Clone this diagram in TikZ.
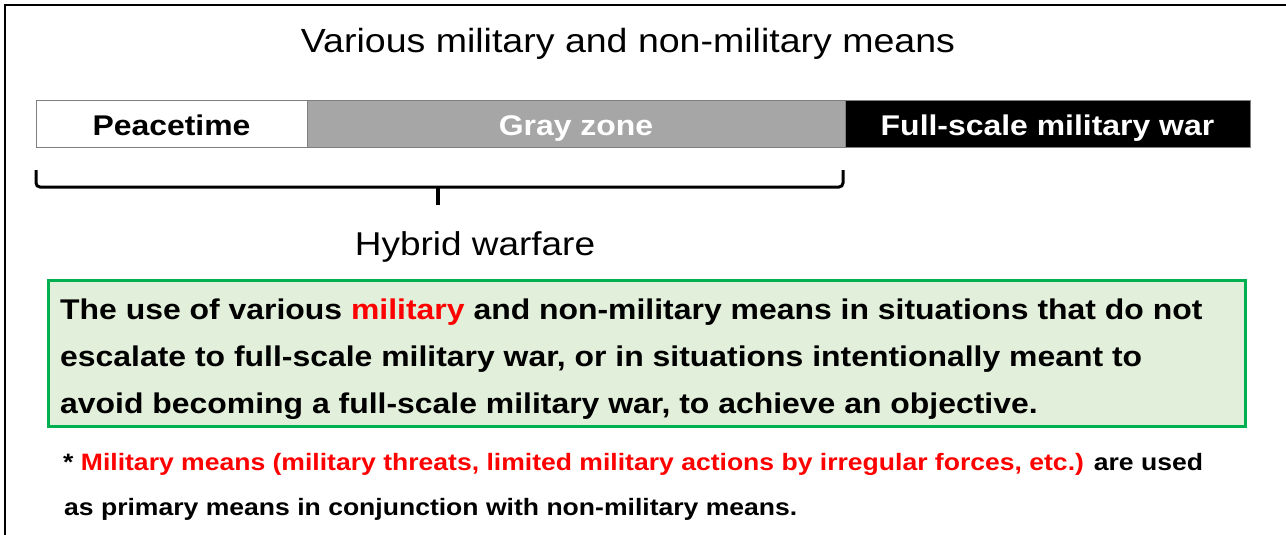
\documentclass[tikz,border=0pt]{standalone}
\usepackage{fontspec}
\setmainfont[FakeStretch=1.12]{Liberation Sans}
\definecolor{barborder}{HTML}{7F7F7F}
\definecolor{grayzone}{HTML}{A6A6A6}
\definecolor{boxgreen}{HTML}{00B050}
\definecolor{boxfill}{HTML}{E2EFDA}
\definecolor{alertred}{HTML}{FF0000}
\tikzset{
  barcell/.style={draw=barborder, line width=0.8pt, inner sep=0pt, anchor=north west, minimum height=47pt},
  barlabel/.style={anchor=base, inner sep=0pt, font=\fontsize{28.5}{34}\selectfont\bfseries},
  heading/.style={anchor=base, inner sep=0pt, font=\fontsize{33.5}{40}\selectfont},
  defline/.style={anchor=base west, inner sep=0pt, font=\fontsize{28.5}{34}\selectfont\bfseries},
  noteline/.style={anchor=base west, inner sep=0pt, font=\fontsize{23.7}{28}\selectfont\bfseries},
  bracketline/.style={line width=3pt, rounded corners=4pt}
}
\begin{document}
\begin{tikzpicture}[x=1pt, y=-1pt]
\useasboundingbox (0,0) rectangle (1286,535);
\begin{scope}
\clip (0,0) rectangle (1286,535);
% frame (open on the right and bottom)
\draw[line width=2pt] (5,545) -- (5,5) -- (1295,5);
\end{scope}

% title
\node[heading] (title) at (628,53) {Various military and non-military means};

% phase bar
\node[barcell, fill=white, minimum width=271pt] (peace) at (36,100) {};
\node[barcell, fill=grayzone, minimum width=538pt] (gray) at (307,100) {};
\node[barcell, fill=black, minimum width=405pt] (war) at (845,100) {};
\node[barlabel] (peacelbl) at (171.5,135.5) {Peacetime};
\node[barlabel, text=white] (graylbl) at (576,135.5) {Gray zone};
\node[barlabel, text=white] (warlbl) at (1047.5,135.5) {Full-scale military war};

% brace under peacetime and gray zone
\draw[bracketline] (36,170) -- (36,187) -- (843,187) -- (843,170);
\draw[line width=3.5pt] (438,186) -- (438,205);
\node[heading, font=\fontsize{33}{40}\selectfont] (hybrid) at (475,255) {Hybrid warfare};

% definition box
\node[draw=boxgreen, fill=boxfill, line width=3pt, anchor=north west,
      minimum width=1197pt, minimum height=146pt, inner sep=0pt] (defbox) at (47,279) {};
\node[defline] (def1) at (60,319) {The use of various \textcolor{alertred}{military} and non-military means in situations that do not};
\node[defline] (def2) at (60,366) {escalate to full-scale military war, or in situations intentionally meant to};
\node[defline] (def3) at (60,413) {avoid becoming a full-scale military war, to achieve an objective.};

% footnote
\node[noteline] (note1) at (63,470) {* \textcolor{alertred}{Military means (military threats, limited military actions by irregular forces, etc.)} are used};
\node[noteline] (note2) at (64,515) {as primary means in conjunction with non-military means.};
\end{tikzpicture}
\end{document}
